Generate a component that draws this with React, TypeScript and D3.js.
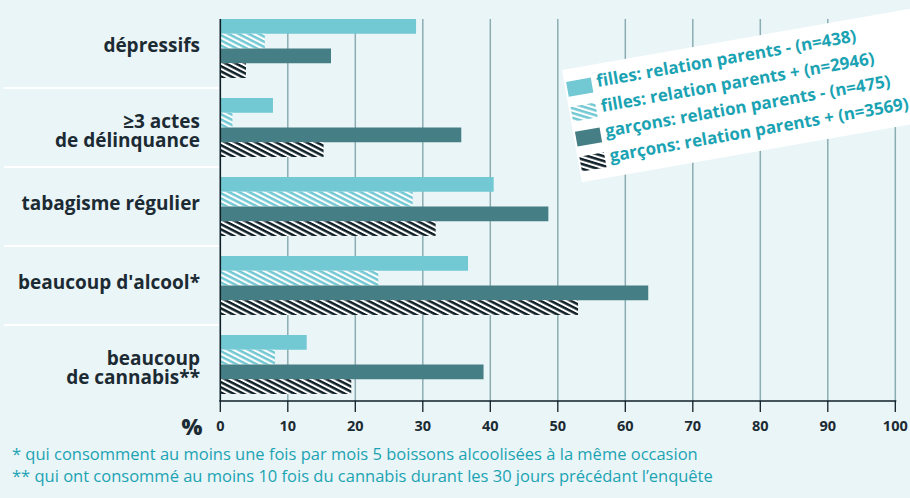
import React from "react";
import * as d3 from "d3";

const categories = ["dépressifs", "délinquance", "tabagisme", "alcool", "cannabis"];
const categoryLabels: string[][] = [
  ["dépressifs"],
  ["≥3 actes", "de délinquance"],
  ["tabagisme régulier"],
  ["beaucoup d'alcool*"],
  ["beaucoup", "de cannabis**"],
];
const seriesKeys = ["fm", "fp", "gm", "gp"];
const seriesNames = [
  "filles: relation parents - (n=438)",
  "filles: relation parents + (n=2946)",
  "garçons: relation parents - (n=475)",
  "garçons: relation parents + (n=3569)",
];
const fillesMoins = [29.0, 7.8, 40.5, 36.7, 12.8];
const fillesPlus = [6.6, 1.8, 28.5, 23.4, 8.1];
const garconsMoins = [16.4, 35.7, 48.6, 63.4, 39.0];
const garconsPlus = [3.8, 15.3, 31.9, 53.0, 19.4];
const xTicks = [0, 10, 20, 30, 40, 50, 60, 70, 80, 90, 100];
const footnotes = [
  "* qui consomment au moins une fois par mois 5 boissons alcoolisées à la même occasion",
  "** qui ont consommé au moins 10 fois du cannabis durant les 30 jours précédant l’enquête",
];

const W = 910;
const H = 498;
const BG = "#EAF5F7";
const C_LIGHT = "#72C8D3";
const C_DARK = "#457F85";
const C_BLACK = "#0E1F27";
const C_GRID = "#8BADB2";
const C_TEXT = "#1C2B33";
const C_TEAL = "#1BA3B3";
const FONT = "'Open Sans', sans-serif";

const seriesData = [fillesMoins, fillesPlus, garconsMoins, garconsPlus];
const seriesFill = [C_LIGHT, "url(#hatchLight)", C_DARK, "url(#hatchBlack)"];

export default function App() {
  const x = d3.scaleLinear().domain([0, 100]).range([220.3, 895.3]);
  const y = d3.scaleBand<string>().domain(categories).range([9, 404]).padding(0);
  const inner = d3.scaleBand<string>().domain(seriesKeys).range([10, 69]).padding(0);
  const plotTop = 19;
  const plotBottom = 401;
  const bw = y.bandwidth();

  return (
    <svg
      width={W}
      height={H}
      style={{ position: "absolute", left: 0, top: 0, display: "block" }}
      fontFamily={FONT}
    >
      <defs>
        <pattern id="hatchLight" patternUnits="userSpaceOnUse" width={10} height={4.6} patternTransform="rotate(27)">
          <rect width={10} height={4.6} fill="#ffffff" />
          <rect width={10} height={2.5} fill={C_LIGHT} />
        </pattern>
        <pattern id="hatchBlack" patternUnits="userSpaceOnUse" width={10} height={4.6} patternTransform="rotate(27)">
          <rect width={10} height={4.6} fill="#ffffff" />
          <rect width={10} height={2.5} fill={C_BLACK} />
        </pattern>
      </defs>
      <rect width={W} height={H} fill={BG} />

      {/* row separators */}
      {categories.slice(1).map((c) => (
        <line key={c} x1={4} x2={219} y1={y(c)!} y2={y(c)!} stroke="#ffffff" strokeWidth={2} />
      ))}

      {/* gridlines */}
      {xTicks.slice(1).map((t) => (
        <line key={t} x1={x(t)} x2={x(t)} y1={plotTop} y2={plotBottom} stroke={C_GRID} strokeWidth={1.5} />
      ))}

      {/* bars */}
      {categories.map((c, ci) => (
        <g key={c} transform={`translate(0,${y(c)})`}>
          {seriesKeys.map((k, si) => (
            <rect
              key={k}
              x={x(0)}
              y={inner(k)!}
              width={x(seriesData[si][ci]) - x(0)}
              height={inner.bandwidth()}
              fill={seriesFill[si]}
            />
          ))}
        </g>
      ))}

      {/* category labels */}
      {categories.map((c, ci) => {
        const lines = categoryLabels[ci];
        const cy = y(c)! + bw / 2;
        const base = lines.length === 1 ? cy + 3 : cy;
        return (
          <text key={c} x={200} y={base} textAnchor="end" fontSize={19} fontWeight={700} fill={C_TEXT}>
            {lines.map((l, li) => (
              <tspan key={li} x={200} y={base + li * 19}>
                {l}
              </tspan>
            ))}
          </text>
        );
      })}

      {/* axes */}
      <line x1={x(0)} x2={x(0)} y1={plotTop} y2={plotBottom} stroke={C_BLACK} strokeWidth={1.6} />
      <line x1={x(0) - 1} x2={x(100) + 1} y1={plotBottom} y2={plotBottom} stroke={C_BLACK} strokeWidth={1.6} />
      {xTicks.map((t) => (
        <g key={t} transform={`translate(${x(t)},0)`}>
          <line y1={plotBottom} y2={plotBottom + 11} stroke={C_BLACK} strokeWidth={1.3} />
          <text y={431} textAnchor="middle" fontSize={14.5} fontWeight={700} fill={C_TEXT}>
            {t}
          </text>
        </g>
      ))}
      <text x={192} y={435} textAnchor="middle" fontSize={22} fontWeight={800} fill={C_TEXT}>
        %
      </text>

      {/* footnotes */}
      {footnotes.map((f, i) => (
        <text key={i} x={12} y={460 + i * 22} fontSize={16.5} fill={C_TEAL}>
          {f}
        </text>
      ))}

      {/* legend */}
      <g transform="translate(562,70) rotate(-10)">
        <rect x={0} y={0} width={390} height={114} fill="#ffffff" />
        {seriesNames.map((n, i) => {
          const cy = 20 + i * 25.3;
          return (
            <g key={n}>
              <rect x={2} y={cy - 7.5} width={25} height={15} fill={seriesFill[i]} />
              <text x={32} y={cy + 3} fontSize={17} fontWeight={700} fill={C_TEAL}>
                {n}
              </text>
            </g>
          );
        })}
      </g>
    </svg>
  );
}
